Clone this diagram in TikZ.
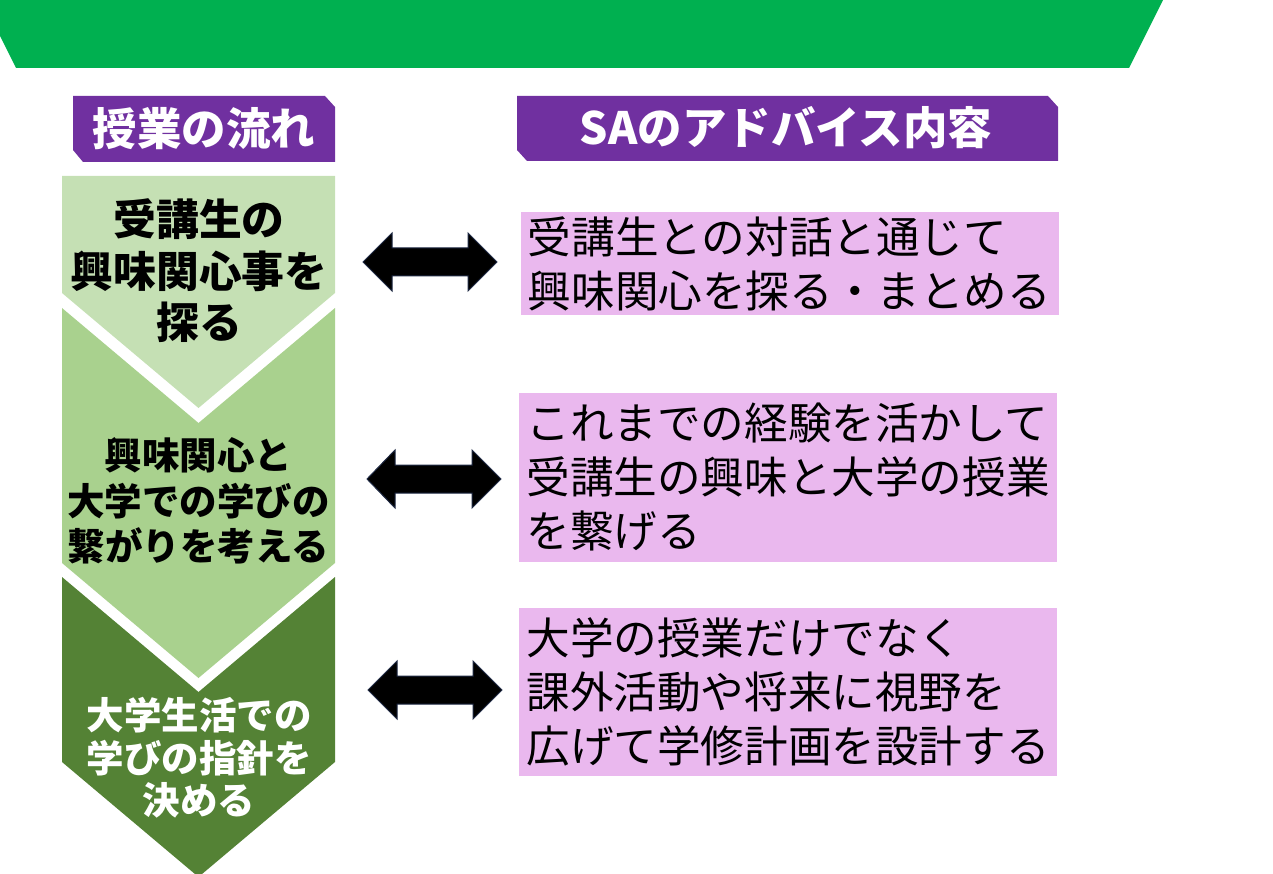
\documentclass[tikz,border=0pt]{standalone}
\usepackage{fontspec}
\setmainfont{Noto Sans CJK JP}
\definecolor{bannergreen}{HTML}{00B050}
\definecolor{hdrpurple}{HTML}{7030A0}
\definecolor{chevA}{HTML}{C5E0B4}
\definecolor{chevB}{HTML}{A9D18E}
\definecolor{chevC}{HTML}{548235}
\definecolor{pinkfill}{HTML}{EAB8EE}
\definecolor{arrowedge}{HTML}{1F2A44}
\begin{document}
\begin{tikzpicture}[x=1pt,y=-1pt,
  hdrshape/.style={fill=hdrpurple},
  hdrtext/.style={text=white,inner sep=0pt,font=\bfseries\fontsize{44.5}{50}\selectfont},
  chevtext/.style={inner sep=0pt,align=center},
  pinkbox/.style={fill=pinkfill,align=left,inner sep=0pt,minimum width=538pt,
    font=\fontsize{43.6}{54}\selectfont},
  blockarrow/.style={fill=black,draw=arrowedge,line width=1pt,line join=miter}]
\useasboundingbox (0,0) rectangle (1273,874);
\clip (0,0) rectangle (1273,874);
% banner
\fill[bannergreen] (-22,-8) -- (1167,-8) -- (1129,68) -- (16,68) -- cycle;
% headers
\fill[hdrshape] (73,96) -- (325,96) -- (335,107) -- (335,162) -- (83,162) -- (73,150) -- cycle;
\node[hdrtext] (h1) at (204,129) {授業の流れ};
\fill[hdrshape] (517,96) -- (1048,96) -- (1058,107) -- (1058,161) -- (527,161) -- (517,150) -- cycle;
\node[hdrtext] (h2) at (786,128) {SAのアドバイス内容};
% chevrons
\fill[chevA] (62,176) -- (335,176) -- (335,293) -- (198.5,408) -- (62,293) -- cycle;
\fill[chevB] (62,308) -- (198.5,423) -- (335,308) -- (335,563) -- (198.5,678) -- (62,563) -- cycle;
\fill[chevC] (62,577) -- (198.5,692) -- (335,577) -- (335,762) -- (198.5,877) -- (62,762) -- cycle;
\node[chevtext,font=\bfseries\fontsize{42.8}{51.5}\selectfont] (c1) at (199,271)
  {受講生の\\興味関心事を\\探る};
\node[chevtext,font=\bfseries\fontsize{37.5}{45.5}\selectfont] (c2) at (198.5,501)
  {興味関心と\\大学での学びの\\繋がりを考える};
\node[chevtext,text=white,font=\bfseries\fontsize{37.5}{42.5}\selectfont] (c3) at (199,758)
  {大学生活での\\学びの指針を\\決める};
% pink boxes
\node[pinkbox,minimum height=103pt] (b1) at (789.5,263.5)
  {受講生との対話と通じて\\興味関心を探る・まとめる};
\node[pinkbox,minimum height=169pt] (b2) at (788,477)
  {これまでの経験を活かして\\受講生の興味と大学の授業\\を繋げる};
\node[pinkbox,minimum height=168pt] (b3) at (788,692)
  {大学の授業だけでなく\\課外活動や将来に視野を\\広げて学修計画を設計する};
% double block arrows
\draw[blockarrow] (363,262) -- (392,233) -- (392,248) -- (468,248) -- (468,233) -- (497,262)
  -- (468,291) -- (468,276) -- (392,276) -- (392,291) -- cycle;
\draw[blockarrow] (367,479) -- (395,450) -- (395,465) -- (472,465) -- (472,450) -- (501,479)
  -- (472,508) -- (472,493) -- (395,493) -- (395,508) -- cycle;
\draw[blockarrow] (368,690) -- (397,661) -- (397,676) -- (473,676) -- (473,661) -- (502,690)
  -- (473,719) -- (473,704) -- (397,704) -- (397,719) -- cycle;
\end{tikzpicture}
\end{document}
